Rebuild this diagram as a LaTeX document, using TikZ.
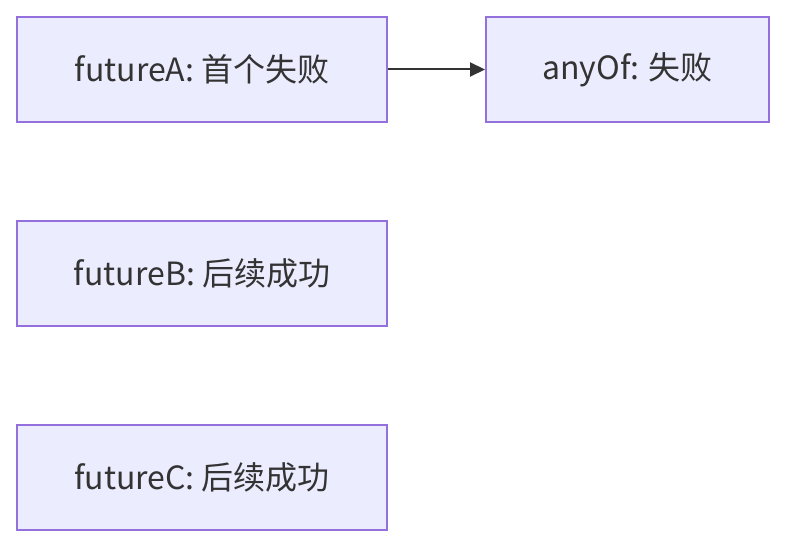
\documentclass[tikz,border=0pt]{standalone}
\usepackage{fontspec}
\setmainfont{Noto Sans CJK SC}
\usetikzlibrary{arrows.meta}
\definecolor{boxfill}{HTML}{ECECFF}
\definecolor{boxline}{HTML}{9370DB}
\definecolor{txt}{HTML}{333333}
\tikzset{
  box/.style={draw=boxline, fill=boxfill, line width=2pt, rectangle, anchor=north west,
    text=txt, font=\fontsize{32}{38}\selectfont, align=center, inner sep=0pt},
  conn/.style={draw=txt, line width=2pt, -{Triangle[length=15pt,width=14pt]}}
}
\begin{document}
\begin{tikzpicture}[x=1pt,y=-1pt]
\useasboundingbox (0,0) rectangle (800,556);
\node[box, minimum width=370pt, minimum height=105pt] (A) at (16,16) {futureA: 首个失败};
\node[box, minimum width=283pt, minimum height=105pt] (Any) at (485,16) {anyOf: 失败};
\node[box, minimum width=370pt, minimum height=105pt] (B) at (16,220) {futureB: 后续成功};
\node[box, minimum width=370pt, minimum height=105pt] (C) at (16,424) {futureC: 后续成功};
\draw[conn] (A.east) -- (Any.west);
\end{tikzpicture}
\end{document}
